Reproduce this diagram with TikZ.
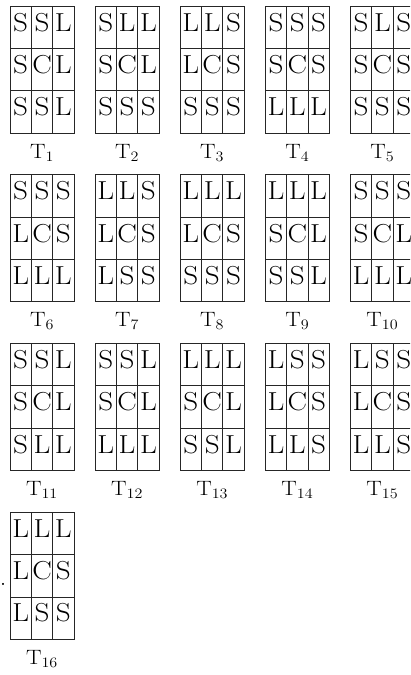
\documentclass[tikz,border=0pt]{standalone}
\usepackage{graphicx}
\begin{document}
\begin{tikzpicture}[x=1pt,y=-1pt,
  gridline/.style={line width=0.8pt, draw=black!85},
  celltext/.style={anchor=base, inner sep=0pt, font=\fontsize{26}{30}\selectfont},
  labeltext/.style={anchor=base, inner sep=0pt, font=\fontsize{19.5}{23}\selectfont}]
\useasboundingbox (0,0) rectangle (410,675);
\clip (0,0) rectangle (410,675);
\def\cw{21.333}
\def\rh{42.333}
\foreach \k/\cells in {
  1/{S,S,L,S,C,L,S,S,L},
  2/{S,L,L,S,C,L,S,S,S},
  3/{L,L,S,L,C,S,S,S,S},
  4/{S,S,S,S,C,S,L,L,L},
  5/{S,L,S,S,C,S,S,S,S},
  6/{S,S,S,L,C,S,L,L,L},
  7/{L,L,S,L,C,S,L,S,S},
  8/{L,L,L,L,C,S,S,S,S},
  9/{L,L,L,S,C,L,S,S,L},
  10/{S,S,S,S,C,L,L,L,L},
  11/{S,S,L,S,C,L,S,L,L},
  12/{S,S,L,S,C,L,L,L,L},
  13/{L,L,L,S,C,L,S,S,L},
  14/{L,S,S,L,C,S,L,L,S},
  15/{L,S,S,L,C,S,L,L,S},
  16/{L,L,L,L,C,S,L,S,S}} {
  \pgfmathtruncatemacro\gc{mod(\k-1,5)}
  \pgfmathtruncatemacro\gr{div(\k-1,5)}
  \pgfmathsetmacro\gx{10+85.1*\gc}
  \pgfmathsetmacro\gy{6+168.75*\gr}
  \draw[gridline] (\gx,\gy) rectangle ++(3*\cw,3*\rh);
  \draw[gridline] (\gx+\cw,\gy) -- ++(0,3*\rh);
  \draw[gridline] (\gx+2*\cw,\gy) -- ++(0,3*\rh);
  \draw[gridline] (\gx,\gy+\rh) -- ++(3*\cw,0);
  \draw[gridline] (\gx,\gy+2*\rh) -- ++(3*\cw,0);
  \foreach \l [count=\n from 0] in \cells {
    \pgfmathtruncatemacro\cc{mod(\n,3)}
    \pgfmathtruncatemacro\cr{div(\n,3)}
    \node[celltext] (c\k-\n) at (\gx+\cw*\cc+0.5*\cw, \gy+\rh*\cr+25) {\scalebox{1.12}[1]{\l}};
  }
  \node[labeltext] (t\k) at (\gx+1.5*\cw, \gy+3*\rh+25) {\scalebox{1.12}[1]{$\mathrm{T}_{\k}$}};
}
\node[celltext] (dot) at (3,585) {.};
\end{tikzpicture}
\end{document}
